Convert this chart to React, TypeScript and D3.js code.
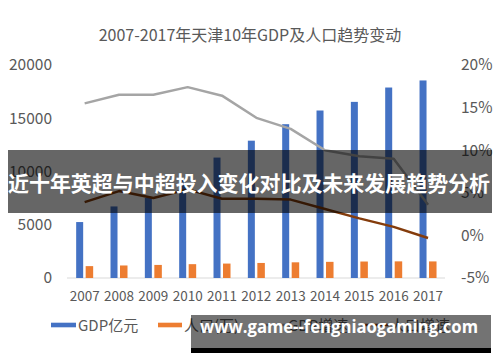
import * as d3 from 'd3';

const years = ['2007', '2008', '2009', '2010', '2011', '2012', '2013', '2014', '2015', '2016', '2017'];
const gdp = [5253, 6719, 7521, 9224, 11307, 12894, 14442, 15727, 16538, 17885, 18549];
const population = [1115, 1176, 1228, 1299, 1355, 1413, 1472, 1517, 1547, 1562, 1557];
const gdpGrowth = [15.5, 16.5, 16.5, 17.4, 16.4, 13.8, 12.5, 10.0, 9.3, 9.0, 3.6];
const popGrowth = [3.9, 5.2, 4.4, 5.4, 4.3, 4.3, 4.2, 3.1, 2.0, 1.0, -0.3];
const leftTicks = [0, 5000, 10000, 15000, 20000];
const rightTicks = [-5, 0, 5, 10, 15, 20];

const FONT = '"Noto Sans CJK SC", "Noto Sans", sans-serif';
const TEXT = '#595959';

export default function App() {
  const x = d3.scaleBand().domain(years).range([67.5, 445.2]);
  const yL = d3.scaleLinear().domain([0, 20000]).range([278, 65]);
  const yR = d3.scaleLinear().domain([-5, 20]).range([278, 65]);
  const cx = (y: string) => (x(y) as number) + x.bandwidth() / 2;

  const growthLine = d3.line<number>().x((_, i) => cx(years[i])).y(d => yR(d));

  return (
    <svg width={500} height={362} style={{ position: 'absolute', left: 0, top: 0, background: '#fff' }}
      fontFamily={FONT}>
      <text x={250} y={41} textAnchor="middle" fontSize={16} fill={TEXT}>
        2007-2017年天津10年GDP及人口趋势变动
      </text>

      {leftTicks.map(t => (
        <text key={t} x={52} y={yL(t)} dy="0.35em" textAnchor="end" fontSize={15.5} fill={TEXT}>{t}</text>
      ))}
      {rightTicks.map(t => (
        <text key={t} x={461} y={yR(t)} dy="0.35em" fontSize={15.5} fill={TEXT}>{t}%</text>
      ))}

      <line x1={67} x2={445} y1={yL(0)} y2={yL(0)} stroke="#d9d9d9" strokeWidth={1} />

      {years.map((yr, i) => (
        <g key={yr}>
          <rect x={cx(yr) - 8.5} width={7} y={yL(gdp[i])} height={yL(0) - yL(gdp[i])} fill="#4472c4" />
          <rect x={cx(yr) + 1} width={7.5} y={yL(population[i])} height={yL(0) - yL(population[i])} fill="#ed7d31" />
          <text x={cx(yr)} y={301} textAnchor="middle" fontSize={13.5} fill={TEXT}>{yr}</text>
        </g>
      ))}

      <path d={growthLine(gdpGrowth) || ''} fill="none" stroke="#a5a5a5" strokeWidth={2.5} strokeLinejoin="round" />
      <path d={growthLine(popGrowth) || ''} fill="none" stroke="#843c0c" strokeWidth={2.5} strokeLinejoin="round" />

      {/* legend */}
      <g fontSize={15} fill={TEXT}>
        <rect x={51} y={322.7} width={25} height={4.6} fill="#4472c4" />
        <text x={78} y={330.5}>GDP亿元</text>
        <rect x={158} y={322.7} width={24} height={4.6} fill="#ed7d31" />
        <text x={184} y={330.5}>人口(万)</text>
        <line x1={263} x2={287} y1={325} y2={325} stroke="#a5a5a5" strokeWidth={2.5} />
        <text x={288} y={330.5}>GDP增速</text>
        <line x1={365} x2={389} y1={325} y2={325} stroke="#843c0c" strokeWidth={2.5} />
        <text x={390} y={330.5}>人口增速</text>
      </g>

      {/* overlay banner */}
      <rect x={8} y={150} width={484} height={63} fill="rgba(0,0,0,0.6)" />
      <text x={249} y={190.5} textAnchor="middle" fontSize={21} fontWeight="bold" fill="#fff"
        textLength={482} lengthAdjust="spacingAndGlyphs">
        近十年英超与中超投入变化对比及未来发展趋势分析
      </text>

      {/* watermark */}
      <rect x={191} y={315} width={300} height={33} fill="rgba(0,0,0,0.55)" />
      <rect x={191} y={348} width={300} height={5} fill="#000" />
      <text x={200} y={333} fontSize={17} fontWeight="bold" fill="#fff"
        textLength={278} lengthAdjust="spacingAndGlyphs" fontFamily='"Open Sans", "DejaVu Sans", sans-serif'>
        www.game--fengniaogaming.com
      </text>
    </svg>
  );
}
